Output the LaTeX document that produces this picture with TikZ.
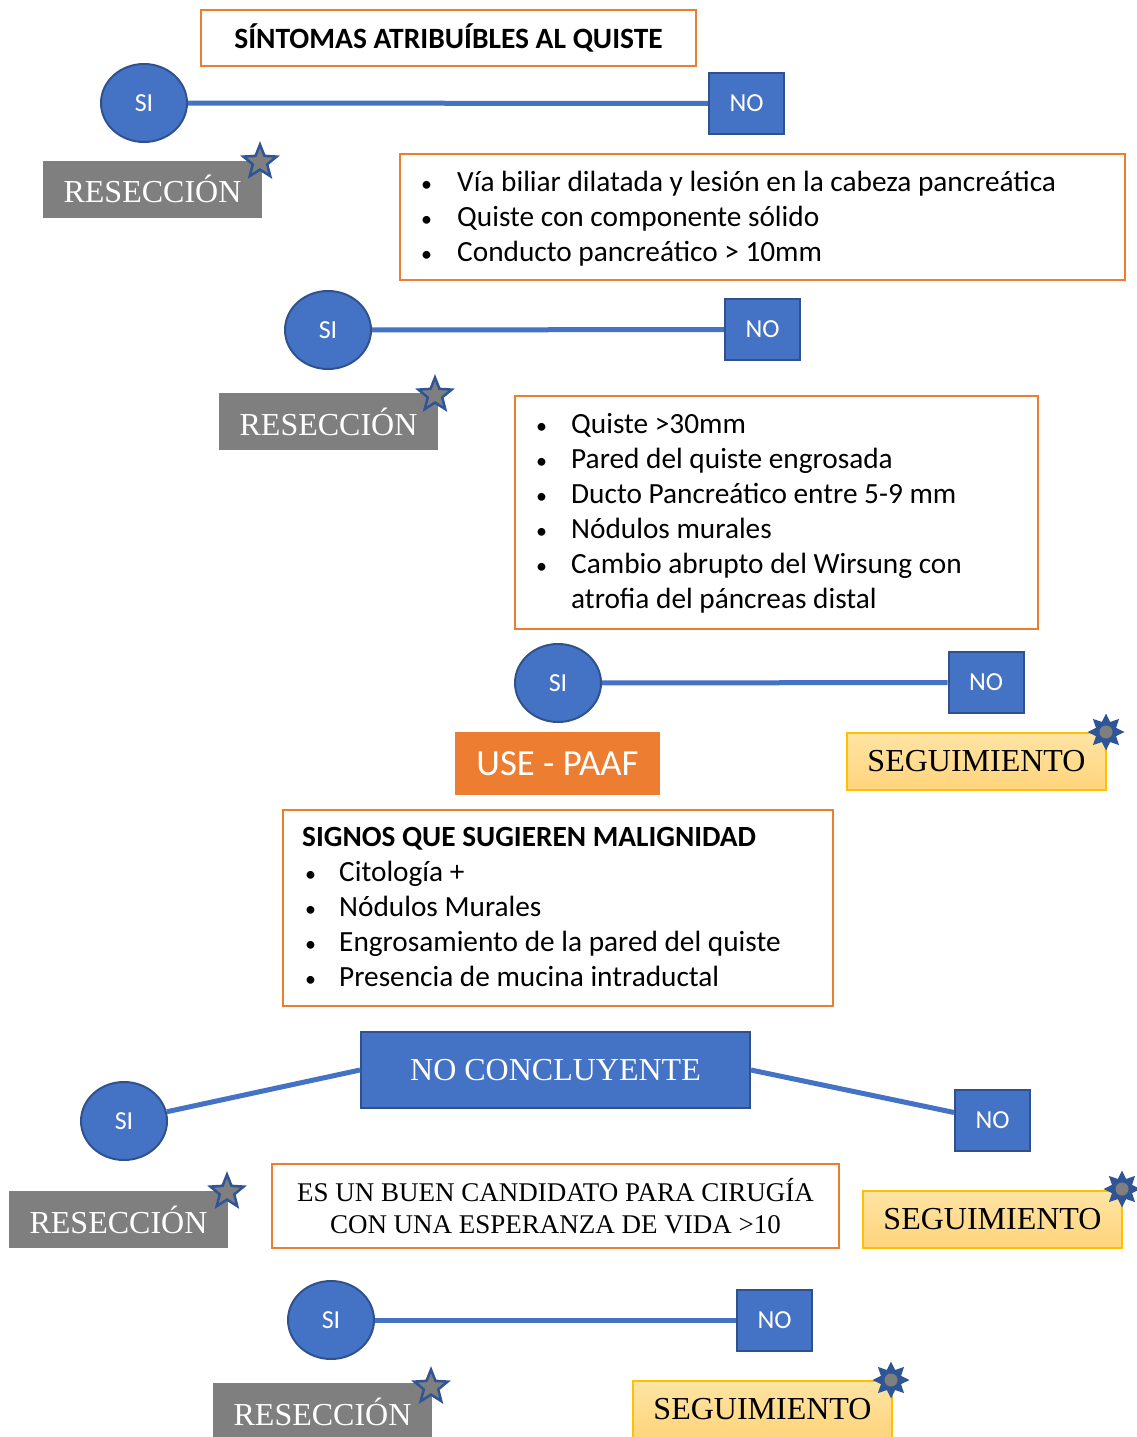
\documentclass[tikz,border=0pt]{standalone}
\usepackage{fontspec}
\setmainfont{Carlito}
\newfontfamily\tnr{Liberation Serif}
\usetikzlibrary{shapes.geometric}
\definecolor{azul}{HTML}{4472C4}
\definecolor{azulosc}{HTML}{2F528F}
\definecolor{naranja}{HTML}{ED7D31}
\definecolor{gris}{HTML}{7F7F7F}
\definecolor{oro}{HTML}{FFC000}
\definecolor{oroa}{HTML}{FFE4A3}
\definecolor{orob}{HTML}{FFD47C}
\definecolor{estrella}{HTML}{2F5597}
\newcommand{\vineta}{{\fontsize{22}{22}\selectfont\textbullet}}
\tikzset{
  sinode/.style={ellipse,draw=azulosc,line width=2pt,fill=azul,text=white,minimum width=86pt,minimum height=78pt,inner sep=0pt,font=\fontsize{26}{31}\selectfont},
  nonode/.style={rectangle,draw=azulosc,line width=2pt,fill=azul,text=white,minimum width=75pt,minimum height=61pt,inner sep=0pt,font=\fontsize{26}{31}\selectfont},
  link/.style={azul,line width=5pt},
  obox/.style={rectangle,draw=naranja,line width=2.5pt,inner sep=0pt},
  resec/.style={rectangle,fill=gris,text=white,minimum width=219pt,minimum height=57pt,inner sep=0pt,font=\tnr\fontsize{32}{38}\selectfont},
  segui/.style={rectangle,draw=oro,line width=1.5pt,top color=oroa,bottom color=orob,minimum width=259pt,minimum height=57pt,inner sep=0pt,font=\tnr\fontsize{32}{38}\selectfont},
  rstar/.style={star,star points=5,star point ratio=2.3,minimum size=35pt,inner sep=0pt,draw=estrella,line width=2.5pt,fill=gris},
  gstar/.style={star,star points=8,star point ratio=1.7,minimum size=37pt,inner sep=0pt,fill=estrella},
  gdot/.style={circle,fill=gris,minimum size=13pt,inner sep=0pt},
  btext/.style={inner sep=0pt,anchor=base west,font=\fontsize{29.3}{35}\selectfont},
}
\begin{document}
\begin{tikzpicture}[x=1pt,y=-1pt]
\useasboundingbox (0,0) rectangle (1137,1437);
\node[obox,minimum width=495pt,minimum height=56pt,font=\bfseries\fontsize{29.5}{35}\selectfont] (titulo) at (448.5,38) {SÍNTOMAS ATRIBUÍBLES AL QUISTE};
\node[sinode] (si1) at (144,103) {SI};
\node[nonode] (no1) at (746.5,103.5) {NO};
\draw[link] (si1) -- (no1);
\node[resec] (res1) at (152.5,189) {RESECCIÓN};
\node[rstar] (est1) at (260,162) {};
\node[obox,minimum width=725pt,minimum height=126pt] (caja2) at (762.5,217) {};
\node[btext] (txt2) at (421,191) {\begin{tabular}[t]{@{}p{36pt}@{}l@{}}
\vineta & Vía biliar dilatada y lesión en la cabeza pancreática\\
\vineta & Quiste con componente sólido\\
\vineta & Conducto pancreático > 10mm
\end{tabular}};
\node[sinode] (si2) at (328,330) {SI};
\node[nonode] (no2) at (762.5,329.5) {NO};
\draw[link] (si2) -- (no2);
\node[resec] (res2) at (328.5,421.5) {RESECCIÓN};
\node[rstar] (est2) at (435,395) {};
\node[obox,minimum width=523pt,minimum height=233pt] (caja3) at (776.5,512.5) {};
\node[btext] (txt3) at (536,433) {\begin{tabular}[t]{@{}p{35pt}@{}l@{}}
\vineta & Quiste >30mm\\
\vineta & Pared del quiste engrosada\\
\vineta & Ducto Pancreático entre 5-9 mm\\
\vineta & Nódulos murales\\
\vineta & Cambio abrupto del Wirsung con\\
 & atrofia del páncreas distal
\end{tabular}};
\node[sinode] (si3) at (558,683) {SI};
\node[nonode] (no3) at (986,682.5) {NO};
\draw[link] (si3) -- (no3);
\node[rectangle,fill=naranja,text=white,minimum width=205pt,minimum height=63pt,inner sep=0pt,font=\fontsize{36.8}{44}\selectfont] (paaf) at (557.5,763.5) {USE - PAAF};
\node[segui] (seg1) at (976.5,761.5) {SEGUIMIENTO};
\node[gstar] (est3) at (1106,732) {};
\node[gdot] (pto3) at (est3) {};
\node[obox,minimum width=550pt,minimum height=196pt] (caja4) at (558,908) {};
\node[btext] (txt4) at (302,846) {\begin{tabular}[t]{@{}p{37pt}@{}l@{}}
\multicolumn{2}{@{}l@{}}{\bfseries SIGNOS QUE SUGIEREN MALIGNIDAD}\\
\hspace{3pt}\vineta & Citología +\\
\hspace{3pt}\vineta & Nódulos Murales\\
\hspace{3pt}\vineta & Engrosamiento de la pared del quiste\\
\hspace{3pt}\vineta & Presencia de mucina intraductal
\end{tabular}};
\node[rectangle,draw=azulosc,line width=2pt,fill=azul,text=white,minimum width=389pt,minimum height=76pt,inner sep=0pt,font=\tnr\fontsize{32}{38}\selectfont] (nocon) at (555.5,1070) {NO CONCLUYENTE};
\node[sinode] (si4) at (124,1121) {SI};
\node[nonode] (no4) at (992.5,1120.5) {NO};
\draw[link] (si4) -- (nocon.west);
\draw[link] (nocon.east) -- (no4);
\node[resec] (res3) at (118.5,1219.5) {RESECCIÓN};
\node[rstar] (est4) at (227,1192) {};
\node[obox,minimum width=567pt,minimum height=84pt,align=center,font=\tnr\fontsize{27}{32}\selectfont] (cand) at (555.5,1206) {ES UN BUEN CANDIDATO PARA CIRUGÍA\\CON UNA ESPERANZA DE VIDA >10};
\node[segui] (seg2) at (992.5,1219.5) {SEGUIMIENTO};
\node[gstar] (est5) at (1122,1189) {};
\node[gdot] (pto5) at (est5) {};
\node[sinode] (si5) at (331,1320) {SI};
\node[nonode] (no5) at (774.5,1320) {NO};
\draw[link] (si5) -- (no5);
\node[resec] (res4) at (322.5,1411.5) {RESECCIÓN};
\node[rstar] (est6) at (431,1387) {};
\node[segui] (seg3) at (762.5,1409.5) {SEGUIMIENTO};
\node[gstar] (est7) at (891,1380) {};
\node[gdot] (pto7) at (est7) {};
\end{tikzpicture}
\end{document}
